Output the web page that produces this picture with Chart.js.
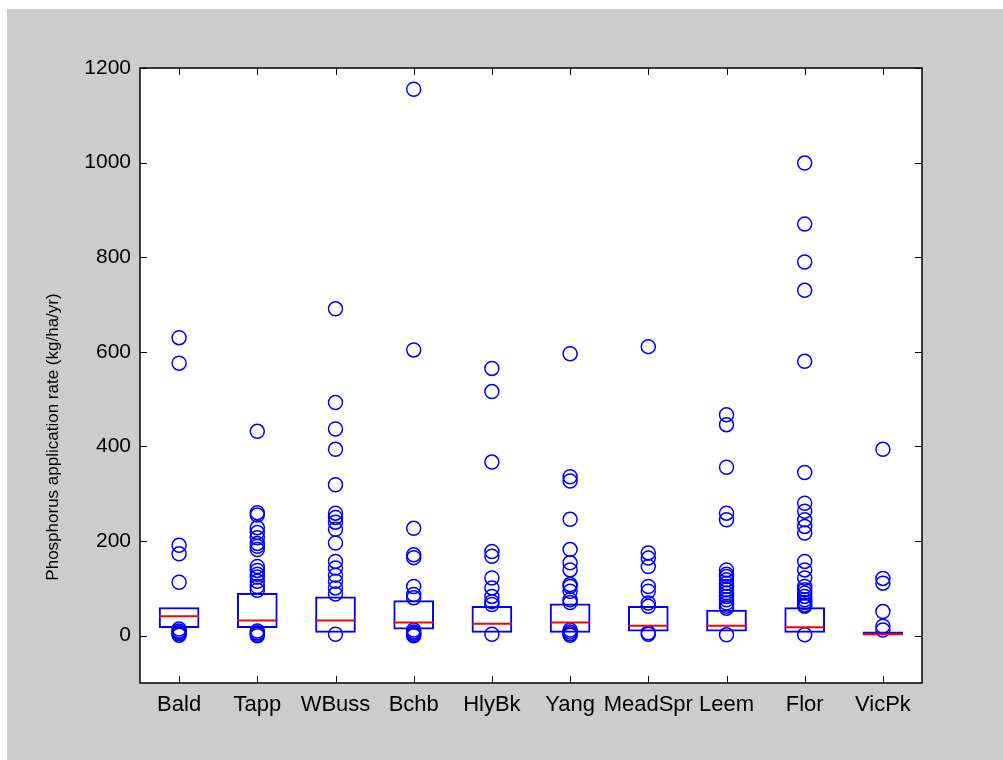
<!DOCTYPE html>
<html>
<head>
<meta charset="utf-8">
<title>Phosphorus application rate by catchment</title>
<script src="https://cdn.jsdelivr.net/npm/chart.js@4.4.1/dist/chart.umd.min.js"></script>
<style>
  html, body { margin: 0; padding: 0; background: #fff; }
  #wrap { width: 1003px; height: 760px; }
</style>
</head>
<body>
<div id="wrap"><canvas id="boxplot" width="1003" height="760"></canvas></div>
<script>
// catchments along the x axis
const categories = ['Bald', 'Tapp', 'WBuss', 'Bchb', 'HlyBk', 'Yang', 'MeadSpr', 'Leem', 'Flor', 'VicPk'];

// box edges (25th / 75th percentile) and medians, kg/ha/yr
const q1 = [16, 16, 6, 13, 6, 6, 9, 9, 6, 1];
const q3 = [60, 90, 83, 75, 63, 68, 63, 55, 60, 9];
const medians = [41, 32, 32, 28, 25, 28, 21, 21, 18, 3];

// points outside the boxes, one list per catchment
const outBald = [630, 576, 191, 173, 113, 14, 10, 7, 4, 1];
const outTapp = [432, 260, 255, 228, 218, 207, 195, 189, 182, 146, 138, 130, 124, 115, 104, 96, 10, 6, 3, 0];
const outWBuss = [691, 493, 437, 394, 319, 259, 250, 240, 225, 196, 157, 143, 128, 115, 101, 88, 3];
const outBchb = [1155, 604, 227, 171, 165, 104, 87, 80, 12, 8, 5, 2, 0];
const outHlyBk = [565, 516, 367, 178, 168, 122, 101, 83, 72, 66, 3];
const outYang = [596, 336, 327, 246, 182, 154, 139, 108, 104, 94, 76, 70, 12, 8, 4, 1];
const outMeadSpr = [611, 175, 164, 146, 104, 94, 69, 62, 6, 3];
const outLeem = [467, 446, 356, 259, 245, 139, 130, 125, 118, 111, 104, 97, 90, 83, 76, 69, 62, 58, 2];
const outFlor = [999, 870, 790, 730, 580, 345, 280, 263, 245, 231, 217, 157, 139, 122, 104, 97, 90, 83, 76, 70, 65, 62, 2];
const outVicPk = [394, 121, 111, 51, 20, 12];

const yTicks = [0, 200, 400, 600, 800, 1000, 1200];
const yMin = -100;
const yMax = 1200;
const yLabel = 'Phosphorus application rate (kg/ha/yr)';

const outliers = [outBald, outTapp, outWBuss, outBchb, outHlyBk, outYang, outMeadSpr, outLeem, outFlor, outVicPk];
const outlierPoints = [];
outliers.forEach((lista, i) => {
  lista.forEach(v => outlierPoints.push({ x: categories[i], y: v }));
});

const BLUE = '#0000ff';
const RED = '#ff0000';
const FONT = "'Liberation Sans', Arial, Helvetica, sans-serif";

// grey figure background, y label, and the black frame with inward ticks on all four sides
const marcoMatlab = {
  id: 'marcoMatlab',
  beforeDraw(chart) {
    const ctx = chart.ctx;
    const a = chart.chartArea;
    ctx.save();
    ctx.fillStyle = '#cccccc';
    ctx.fillRect(7, 9, chart.width - 7, chart.height - 9);
    ctx.fillStyle = '#ffffff';
    ctx.fillRect(a.left, a.top, a.right - a.left, a.bottom - a.top);

    // ylabel sits a little below the middle of the axis
    ctx.translate(53, 437);
    ctx.rotate(-Math.PI / 2);
    ctx.fillStyle = '#000';
    ctx.font = '17px ' + FONT;
    ctx.textAlign = 'center';
    ctx.textBaseline = 'middle';
    ctx.fillText(yLabel, 0, 0);
    ctx.restore();
  },
  afterDraw(chart) {
    const ctx = chart.ctx;
    const a = chart.chartArea;
    const x = chart.scales.x;
    const y = chart.scales.y;
    const len = 7;
    ctx.save();
    ctx.strokeStyle = '#000';
    ctx.lineWidth = 1;
    ctx.beginPath();
    for (let i = 0; i < x.ticks.length; i++) {
      const px = Math.round(x.getPixelForTick(i)) + 0.5;
      ctx.moveTo(px, a.bottom);
      ctx.lineTo(px, a.bottom - len);
      ctx.moveTo(px, a.top);
      ctx.lineTo(px, a.top + len);
    }
    for (let i = 0; i < y.ticks.length; i++) {
      const py = Math.round(y.getPixelForTick(i)) + 0.5;
      ctx.moveTo(a.left, py);
      ctx.lineTo(a.left + len, py);
      ctx.moveTo(a.right, py);
      ctx.lineTo(a.right - len, py);
    }
    ctx.stroke();
    ctx.lineWidth = 1.5;
    ctx.strokeRect(Math.round(a.left), Math.round(a.top), Math.round(a.right - a.left), Math.round(a.bottom - a.top));
    ctx.restore();
  }
};

const ctx = document.getElementById('boxplot').getContext('2d');
const chart = new Chart(ctx, {
  type: 'bar',
  data: {
    labels: categories,
    datasets: [
      {
        type: 'line',
        label: 'Median',
        data: medians,
        showLine: false,
        pointStyle: 'line',
        pointRadius: 20,
        pointBorderWidth: 2,
        pointBorderColor: RED,
        borderColor: RED
      },
      {
        type: 'line',
        label: 'Outliers',
        data: outlierPoints,
        showLine: false,
        pointStyle: 'circle',
        pointRadius: 7,
        pointBorderWidth: 1.5,
        pointBorderColor: BLUE,
        pointBackgroundColor: 'rgba(0,0,0,0)',
        borderColor: BLUE
      },
      {
        type: 'bar',
        label: 'Box',
        data: q1.map((v, i) => [v, q3[i]]),
        backgroundColor: 'rgba(0,0,0,0)',
        borderColor: BLUE,
        borderWidth: 2,
        borderSkipped: false,
        categoryPercentage: 1,
        barPercentage: 0.52
      }
    ]
  },
  options: {
    responsive: false,
    animation: false,
    events: [],
    layout: { padding: { left: 38, top: 68, right: 81, bottom: 0 } },
    plugins: {
      legend: { display: false },
      tooltip: { enabled: false }
    },
    scales: {
      x: {
        type: 'category',
        offset: true,
        grid: { display: false, drawTicks: false },
        border: { display: false },
        ticks: {
          color: '#000',
          padding: 9,
          maxRotation: 0,
          autoSkip: false,
          font: { family: FONT, size: 22 }
        },
        afterFit: s => { s.height = 77; }
      },
      y: {
        min: yMin,
        max: yMax,
        grid: { display: false, drawTicks: false },
        border: { display: false },
        ticks: {
          color: '#000',
          padding: 9,
          font: { family: FONT, size: 21 },
          callback: v => String(v)
        },
        afterBuildTicks: s => { s.ticks = yTicks.map(v => ({ value: v })); },
        afterFit: s => { s.width = 102; }
      }
    }
  },
  plugins: [marcoMatlab]
});
</script>
</body>
</html>
